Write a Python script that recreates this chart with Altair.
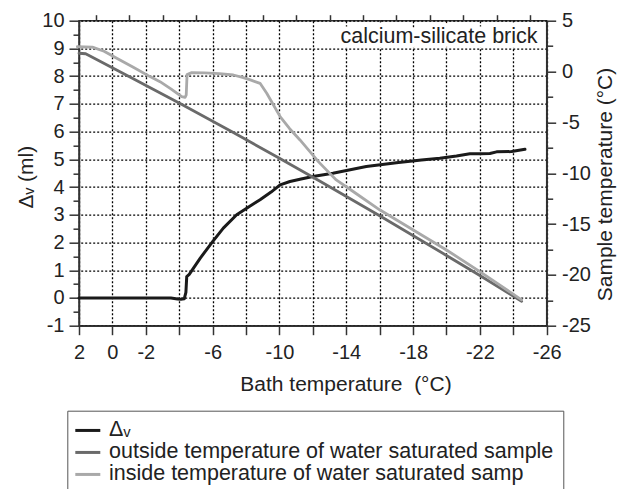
import altair as alt
import pandas as pd

# ---------------- data ----------------
# Δv (ml) against bath temperature (°C)  -> left axis
dv_bath = [2.0, 0.0, -2.0, -3.5, -3.9, -4.1, -4.3, -4.4, -4.45, -4.6, -5.25, -6.0,
           -6.64, -7.44, -8.2, -8.84, -9.5, -10.04, -10.63, -11.23, -12.0, -13.2,
           -15.2, -17.0, -18.5, -19.6, -20.6, -21.4, -22.0, -22.6, -23.0, -23.9, -24.7]
dv_ml = [0.0, 0.0, 0.0, 0.0, -0.04, -0.05, -0.03, 0.2, 0.77, 0.85, 1.43, 2.03,
         2.52, 3.0, 3.3, 3.54, 3.82, 4.08, 4.2, 4.28, 4.38, 4.5,
         4.74, 4.88, 4.98, 5.04, 5.12, 5.2, 5.2, 5.21, 5.27, 5.28, 5.36]

# outside temperature of the sample (°C) -> right axis
out_bath = [2.0, 1.6, -1.25, -4.05, -7.24, -10.0, -12.43, -16.0, -20.0, -22.0, -24.5]
out_temp = [1.8, 1.75, -0.7, -3.15, -6.0, -8.53, -10.79, -14.19, -18.09, -20.07, -22.6]

# inside temperature of the sample (°C) -> right axis
in_bath = [2.1, 1.2, 0.5, -0.26, -1.25, -2.25, -2.85, -3.5, -4.15, -4.35, -4.42, -4.47,
           -4.75, -5.5, -6.4, -7.24, -7.84, -8.3, -8.84, -9.24, -10.04, -10.6, -11.23,
           -12.33, -13.4, -14.5, -16.0, -20.0, -22.0, -24.5]
in_temp = [2.44, 2.4, 2.0, 1.3, 0.42, -0.5, -1.0, -1.7, -2.47, -2.55, -2.3, -0.3,
           -0.11, -0.14, -0.2, -0.34, -0.6, -0.85, -1.16, -2.14, -4.44, -5.6, -6.73,
           -8.86, -10.66, -11.9, -13.6, -17.55, -19.68, -22.46]

series_names = ["Δᵥ",
                "outside temperature of water saturated sample",
                "inside temperature of water saturated samp"]
series_colors = ["#1a1a1a", "#6a6a6a", "#a9a9a9"]

x_major = list(range(2, -27, -2))
x_minor = list(range(1, -26, -2))
x_labeled = [2, 0, -2, -6, -10, -14, -18, -22, -26]
left_major = list(range(-1, 11))
left_minor = [v + 0.5 for v in range(-1, 10)]
right_major = list(range(-25, 6, 5))
right_minor = [v + 2.5 for v in range(-25, 5, 5)]

note_text = ["calcium-silicate brick"]
note_bath = [-25.45]
note_val = [9.2]

FONT = "Liberation Sans"
INK = "#222222"

# ---------------- tables ----------------
dv_df = pd.DataFrame({"bath": dv_bath, "val": dv_ml,
                      "series": series_names[0], "order": range(len(dv_bath))})
temp_df = pd.concat([
    pd.DataFrame({"bath": out_bath, "val": out_temp, "series": series_names[1],
                  "order": range(len(out_bath))}),
    pd.DataFrame({"bath": in_bath, "val": in_temp, "series": series_names[2],
                  "order": range(len(in_bath))}),
], ignore_index=True)
dummy_df = pd.DataFrame({"bath": [0.0], "val": [0.0]})
note_df = pd.DataFrame({"bath": note_bath, "val": note_val, "label": note_text})

x_scale = alt.Scale(domain=[-26, 2], reverse=True, nice=False, zero=False)
left_scale = alt.Scale(domain=[-1, 10], nice=False, zero=False)
right_scale = alt.Scale(domain=[-25, 5], nice=False, zero=False)
color_scale = alt.Scale(domain=series_names, range=series_colors)

legend = alt.Legend(orient="none", legendX=-11.7, legendY=390, title=None,
                    direction="vertical", symbolType="M-2,0H2", symbolSize=156.25,
                    symbolStrokeWidth=3, symbolOffset=0.75, labelOffset=10.5,
                    labelFont=FONT, labelFontSize=21.5, labelLimit=800,
                    labelColor=INK, rowPadding=-6, padding=9,
                    strokeColor="#555555", fillColor="white")

label_expr_x = ("indexof(" + str(x_labeled).replace(" ", "") +
                ", datum.value) >= 0 ? toString(datum.value) : ''")

common_axis = dict(labelFont=FONT, labelFontSize=20, labelColor=INK,
                   titleFont=FONT, titleFontSize=21, titleColor=INK,
                   titleFontWeight="normal",
                   domainColor="#333333", domainWidth=1.5,
                   tickColor="#333333", tickWidth=1.5,
                   labelFlush=False, labelOverlap=False)

grid_style = dict(gridColor="#000000", gridDash=[2, 2], gridWidth=1.3, gridOpacity=1)

x_axis_major = alt.Axis(
    values=x_major, labelExpr=label_expr_x,
    grid=True, **grid_style,
    tickSize=9, labelPadding=7.5,
    title="Bath temperature \u00a0(°C)", titleX=266.5, titleY=65,
    titleBaseline="alphabetic", titleAlign="center",
    **common_axis)
x_axis_minor = alt.Axis(values=x_minor, labels=False, grid=False, domain=False,
                        tickSize=6, tickColor="#333333", tickWidth=1.5, title=None)

left_axis_major = alt.Axis(
    orient="left", values=left_major, labelExpr="toString(datum.value)",
    grid=True, **grid_style,
    tickSize=10, labelPadding=5,
    title="Δᵥ (ml)", titleAngle=270, titleX=-46.5, titleY=156,
    titleBaseline="alphabetic", titleAlign="center",
    **common_axis)
left_axis_minor = alt.Axis(orient="left", values=left_minor, labels=False, grid=False,
                           domain=False, tickSize=6, tickColor="#333333",
                           tickWidth=1.5, title=None)

right_axis_major = alt.Axis(
    orient="right", values=right_major, labelExpr="toString(datum.value)",
    grid=False, tickSize=9, labelPadding=5.8,
    title="Sample temperature (°C)", titleAngle=270, titleX=65, titleY=163.3,
    titleBaseline="alphabetic", titleAlign="center",
    **common_axis)
right_axis_minor = alt.Axis(orient="right", values=right_minor, labels=False, grid=False,
                            domain=False, tickSize=6, tickColor="#333333",
                            tickWidth=1.5, title=None)

dv_layer = alt.Chart(dv_df).mark_line(strokeWidth=3, strokeCap="round",
                                      strokeJoin="round").encode(
    x=alt.X("bath:Q", scale=x_scale, axis=x_axis_major),
    y=alt.Y("val:Q", scale=left_scale, axis=left_axis_major),
    color=alt.Color("series:N", scale=color_scale, legend=legend),
    order="order:Q",
)

temp_layer = alt.Chart(temp_df).mark_line(strokeWidth=2.8, strokeCap="round",
                                          strokeJoin="round").encode(
    x=alt.X("bath:Q", scale=x_scale, axis=None),
    y=alt.Y("val:Q", scale=right_scale, axis=right_axis_major),
    color=alt.Color("series:N", scale=color_scale, legend=legend),
    order="order:Q",
)

minor_left = alt.Chart(dummy_df).mark_point(opacity=0).encode(
    x=alt.X("bath:Q", scale=x_scale, axis=x_axis_minor),
    y=alt.Y("val:Q", scale=left_scale, axis=left_axis_minor),
)
minor_right = alt.Chart(dummy_df).mark_point(opacity=0).encode(
    x=alt.X("bath:Q", scale=x_scale, axis=None),
    y=alt.Y("val:Q", scale=right_scale, axis=right_axis_minor),
)

note_halo = alt.Chart(note_df).mark_text(align="right", baseline="alphabetic",
                                         font=FONT, fontSize=21.5, color="white",
                                         stroke="white", strokeWidth=9,
                                         strokeJoin="round").encode(
    x=alt.X("bath:Q", scale=x_scale, axis=None),
    y=alt.Y("val:Q", scale=left_scale, axis=None),
    text="label:N",
)
note_layer = alt.Chart(note_df).mark_text(align="right", baseline="alphabetic",
                                          font=FONT, fontSize=21.5, color=INK).encode(
    x=alt.X("bath:Q", scale=x_scale, axis=None),
    y=alt.Y("val:Q", scale=left_scale, axis=None),
    text="label:N",
)

chart = alt.layer(dv_layer, temp_layer, minor_left, minor_right,
                  note_halo, note_layer).resolve_scale(
    y="independent"
).resolve_axis(
    x="independent", y="independent"
).properties(
    width=467.7, height=305,
    autosize=alt.AutoSizeParams(type="none"),
    padding={"left": 71, "top": 12.7, "right": 71, "bottom": 165},
    background="white",
).configure_view(stroke="#333333", strokeWidth=1.5)

chart.save("out.html", embed_options={"renderer": "svg", "actions": False})
